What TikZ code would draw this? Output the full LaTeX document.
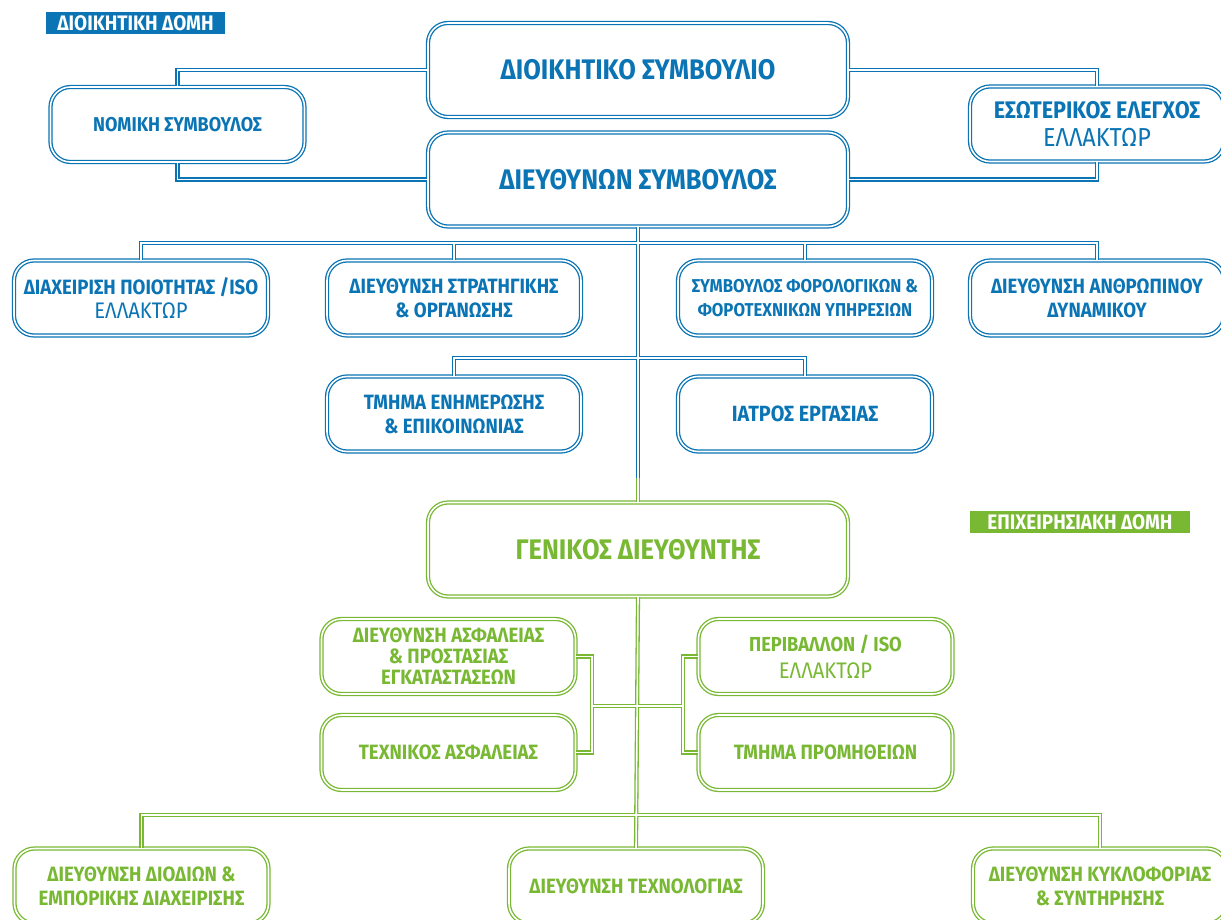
\documentclass[tikz,border=0pt]{standalone}
\usepackage{fontspec}
\setmainfont{Fira Sans}[FakeStretch=0.9]
\definecolor{admin}{HTML}{0A74B4}
\definecolor{oper}{HTML}{78B833}

% the group name, set in a lighter weight
\newcommand{\firm}[1][22.5]{{\mdseries\fontsize{#1}{27}\selectfont ΕΛΛΑΚΤΩΡ}}

\tikzset{
  orgbox/.style={double=white, double distance=1.6pt, line width=1.3pt,
    fill=white, rounded corners=20pt, align=center, inner sep=2pt,
    minimum width=254pt, minimum height=75pt,
    font=\bfseries\fontsize{20.7}{24}\selectfont},
  bbox/.style={orgbox, draw=admin, text=admin},
  gbox/.style={orgbox, draw=oper, text=oper},
  topbox/.style={minimum width=420pt, minimum height=94pt,
    font=\bfseries\fontsize{28.3}{32}\selectfont},
  tag/.style={inner sep=0pt, minimum height=22pt, text=white,
    font=\bfseries\fontsize{21}{22}\selectfont},
  wire/.style={line width=4.2pt},
  gap/.style={white, line width=1.6pt}
}

% connectors, drawn twice (outer stroke, then the white gap)
\newcommand{\adminlinks}{
  \draw (board.west) -| (legal.north);
  \draw (ceo.west) -| (legal.south);
  \draw (board.east) -| (audit.north);
  \draw (ceo.east) -| (audit.south);
  \draw (quality.north) |- (j1) -| (hr.north);
  \draw (strategy.north) -- (strategy.north |- j1);
  \draw (tax.north) -- (tax.north |- j1);
  \draw (comms.north) |- (j2) -| (doctor.north);
  \draw (ceo.south) -- (cc);
}
\newcommand{\operlinks}{
  \draw (cc) -- (gm.north);
  \draw (gm.south) -- (tech.north);
  \draw (security.east) -| (lj) |- (techsafety.east);
  \draw (env.west) -| (rj) |- (procure.west);
  \draw (lj) -- (rj);
  \draw (tolls.north) |- (j4) -| (traffic.north);
}

\begin{document}
\begin{tikzpicture}[x=1pt, y=-1pt]

\useasboundingbox (0,0) rectangle (1221,920);
\clip (0,0) rectangle (1221,920);

% Section tags
\node[tag, fill=admin, minimum width=179pt] (admintag) at (135.5,23.5) {ΔΙΟΙΚΗΤΙΚΗ ΔΟΜΗ};
\node[tag, fill=oper, minimum width=220pt] (opertag) at (1080,522) {ΕΠΙΧΕΙΡΗΣΙΑΚΗ ΔΟΜΗ};

% Administrative structure
\node[bbox, topbox] (board) at (638,70) {ΔΙΟΙΚΗΤΙΚΟ ΣΥΜΒΟΥΛΙΟ};
\node[bbox, topbox] (ceo) at (638,179.5) {ΔΙΕΥΘΥΝΩΝ ΣΥΜΒΟΥΛΟΣ};
\node[bbox, font=\bfseries\fontsize{20}{24}\selectfont] (legal) at (177.5,124.5) {ΝΟΜΙΚΗ ΣΥΜΒΟΥΛΟΣ};
\node[bbox, font=\bfseries\fontsize{24}{28}\selectfont] (audit) at (1097,124) {ΕΣΩΤΕΡΙΚΟΣ ΕΛΕΓΧΟΣ\\\firm[26]};

\node[bbox] (quality) at (141,298) {ΔΙΑΧΕΙΡΙΣΗ ΠΟΙΟΤΗΤΑΣ /ISO\\\firm};
\node[bbox] (strategy) at (454,298) {ΔΙΕΥΘΥΝΣΗ ΣΤΡΑΤΗΓΙΚΗΣ\\\& ΟΡΓΑΝΩΣΗΣ};
\node[bbox, font=\bfseries\fontsize{18.6}{24}\selectfont] (tax) at (805,298) {ΣΥΜΒΟΥΛΟΣ ΦΟΡΟΛΟΓΙΚΩΝ \&\\ΦΟΡΟΤΕΧΝΙΚΩΝ ΥΠΗΡΕΣΙΩΝ};
\node[bbox] (hr) at (1097,298) {ΔΙΕΥΘΥΝΣΗ ΑΝΘΡΩΠΙΝΟΥ\\ΔΥΝΑΜΙΚΟΥ};
\node[bbox] (comms) at (454,414) {ΤΜΗΜΑ ΕΝΗΜΕΡΩΣΗΣ\\\& ΕΠΙΚΟΙΝΩΝΙΑΣ};
\node[bbox, font=\bfseries\fontsize{22}{24}\selectfont] (doctor) at (805,414) {ΙΑΤΡΟΣ ΕΡΓΑΣΙΑΣ};

% Operational structure
\node[gbox, topbox] (gm) at (638,549.5) {ΓΕΝΙΚΟΣ ΔΙΕΥΘΥΝΤΗΣ};
\node[gbox, font=\bfseries\fontsize{20.7}{21}\selectfont] (security) at (448.5,656.5) {ΔΙΕΥΘΥΝΣΗ ΑΣΦΑΛΕΙΑΣ\\\& ΠΡΟΣΤΑΣΙΑΣ\\ΕΓΚΑΤΑΣΤΑΣΕΩΝ};
\node[gbox] (techsafety) at (448.5,752.5) {ΤΕΧΝΙΚΟΣ ΑΣΦΑΛΕΙΑΣ};
\node[gbox, font=\bfseries\fontsize{20.3}{27}\selectfont] (env) at (825.5,656.5) {ΠΕΡΙΒΑΛΛΟΝ / ISO\\\firm};
\node[gbox] (procure) at (825.5,752.5) {ΤΜΗΜΑ ΠΡΟΜΗΘΕΙΩΝ};
\node[gbox] (tolls) at (141.5,886) {ΔΙΕΥΘΥΝΣΗ ΔΙΟΔΙΩΝ \&\\ΕΜΠΟΡΙΚΗΣ ΔΙΑΧΕΙΡΙΣΗΣ};
\node[gbox] (tech) at (636,886) {ΔΙΕΥΘΥΝΣΗ ΤΕΧΝΟΛΟΓΙΑΣ};
\node[gbox] (traffic) at (1100,886) {ΔΙΕΥΘΥΝΣΗ ΚΥΚΛΟΦΟΡΙΑΣ\\\& ΣΥΝΤΗΡΗΣΗΣ};

% Junctions
\coordinate (j1) at (638,243);
\coordinate (j2) at (638,358);
\coordinate (cc) at (638,478);
\coordinate (lj) at (592,706);
\coordinate (rj) at (683,706);
\coordinate (j4) at (638,815);

% Links
\begin{scope}[wire, admin] \adminlinks \end{scope}
\begin{scope}[gap] \adminlinks \end{scope}
\begin{scope}[wire, oper] \operlinks \end{scope}
\begin{scope}[gap] \operlinks \end{scope}

\end{tikzpicture}
\end{document}
